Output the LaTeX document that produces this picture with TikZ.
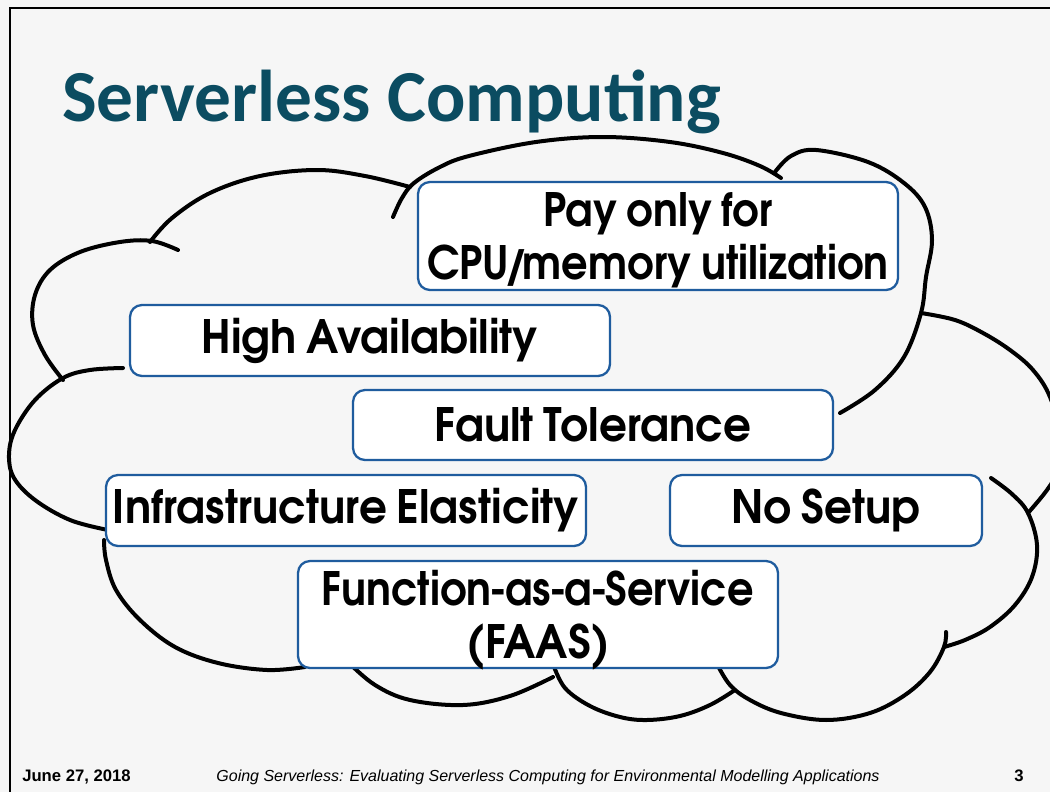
\documentclass[tikz,border=0pt]{standalone}
\usepackage{fontspec}
\usepackage{graphicx}
\newfontfamily\titlefont{Carlito}
\newfontfamily\gothfont{texgyreadventor-bold.otf}[FakeStretch=0.95, WordSpace=0.8]
\newfontfamily\footfont{Liberation Sans}
\definecolor{slidebg}{HTML}{F6F6F6}
\definecolor{titleteal}{HTML}{0B4C61}
\definecolor{boxblue}{HTML}{1F5C9E}
\newcommand{\hy}{\kern-1.5pt-\kern-1.5pt}
\newcommand{\narrowline}[1]{\scalebox{0.95}[1]{#1}}
\tikzset{
  cloudline/.style={line width=3pt, line cap=round, line join=round},
  featbox/.style={draw=boxblue, fill=white, line width=1.7pt, rounded corners=9pt,
    inner sep=0pt, align=center, font=\gothfont\fontsize{34.5}{40}\selectfont},
  twoline/.style={text depth=0pt},
}
\begin{document}
\begin{tikzpicture}[x=0.75pt,y=-0.75pt]
% slide area
\fill[slidebg] (0,0) rectangle (1050,792);
\useasboundingbox (0,0) rectangle (1050,792);
\draw[line width=2pt] (10,792) -- (10,8) -- (1050,8);

% title
\node[anchor=base west, inner sep=0pt, text=titleteal,
      font=\titlefont\bfseries\fontsize{55}{60}\selectfont] (title) at (62,122) {Serverless Computing};

% cloud outline, built from its arcs
\begin{scope}
\clip (0,0) rectangle (1050,792);
\draw[cloudline] plot[smooth, tension=0.6] coordinates
  {(150,242) (172,218) (210,193) (260,176) (317,170) (365,176) (410,187)};
\draw[cloudline] plot[smooth, tension=0.6] coordinates
  {(393,217) (402,198) (414,183) (440,167) (469,156) (536,142) (603,137) (670,142) (723,153) (760,166) (781,178)};
\draw[cloudline] plot[smooth, tension=0.6] coordinates
  {(775,172) (791,156) (816,150) (868,162) (904,183) (925,207) (932,240) (926,277) (921,313) (904,357) (875,390) (840,413)};
\draw[cloudline] plot[smooth, tension=0.6] coordinates
  {(921,313) (955,320) (983,333) (1010,350) (1033,370) (1050,397) (1062,440) (1058,470) (1047,490) (1028,513)};
\draw[cloudline] plot[smooth, tension=0.6] coordinates
  {(991,478) (1012,494) (1028,513) (1037,545) (1032,577) (1015,605) (990,627) (965,640) (944,647)};
\draw[cloudline] plot[smooth, tension=0.6] coordinates
  {(717,664) (730,685) (750,700) (781,713) (826,720) (870,713) (905,695) (930,672) (944,647) (946,632)};
\draw[cloudline] plot[smooth, tension=0.6] coordinates
  {(553,664) (565,688) (590,706) (620,717) (647,720) (680,716) (710,705) (735,690)};
\draw[cloudline] plot[smooth, tension=0.6] coordinates
  {(348,662) (375,685) (410,700) (463,705) (510,696) (553,677)};
\draw[cloudline] plot[smooth, tension=0.6] coordinates
  {(104,540) (106,560) (116,590) (140,620) (175,647) (218,663) (267,670) (305,667)};
\draw[cloudline] plot[smooth, tension=0.6] coordinates
  {(123,368) (90,370) (63,378) (35,400) (15,430) (9,455) (14,478) (35,500) (70,520) (108,530)};
\draw[cloudline] plot[smooth, tension=0.6] coordinates
  {(63,380) (45,355) (33,325) (35,295) (50,270) (80,252) (120,242) (152,241) (178,250)};
\end{scope}

% feature boxes
\node[featbox, twoline, minimum width=360pt, minimum height=81pt] (pay) at (658,236)
  {\narrowline{Pay only for}\\\narrowline{CPU\kern-4pt/\kern-4pt memory utilization}};
\node[featbox, minimum width=360pt, minimum height=53.25pt] (avail) at (370,340.5)
  {High Availability};
\node[featbox, minimum width=360pt, minimum height=52.5pt] (fault) at (593,425)
  {Fault Tolerance};
\node[featbox, minimum width=360pt, minimum height=53.25pt] (elastic) at (346,510.5)
  {Infrastructure Elasticity};
\node[featbox, minimum width=234pt, minimum height=53.25pt] (nosetup) at (826,510.5)
  {No Setup};
\node[featbox, twoline, minimum width=360pt, minimum height=80.25pt] (faas) at (538,614.5)
  {\narrowline{Function\hy as\hy a\hy Service}\\(FAAS)};

% footer
\node[anchor=base west, inner sep=0pt, font=\footfont\bfseries\fontsize{12.5}{14}\selectfont]
  (date) at (22,781) {June 27, 2018};
\node[anchor=base, inner sep=0pt, font=\footfont\itshape\fontsize{12}{14}\selectfont]
  (talk) at (548,781) {Going Serverless: Evaluating Serverless Computing for Environmental Modelling Applications};
\node[anchor=base east, inner sep=0pt, font=\footfont\bfseries\fontsize{12.5}{14}\selectfont]
  (page) at (1024,781) {3};
\end{tikzpicture}
\end{document}
